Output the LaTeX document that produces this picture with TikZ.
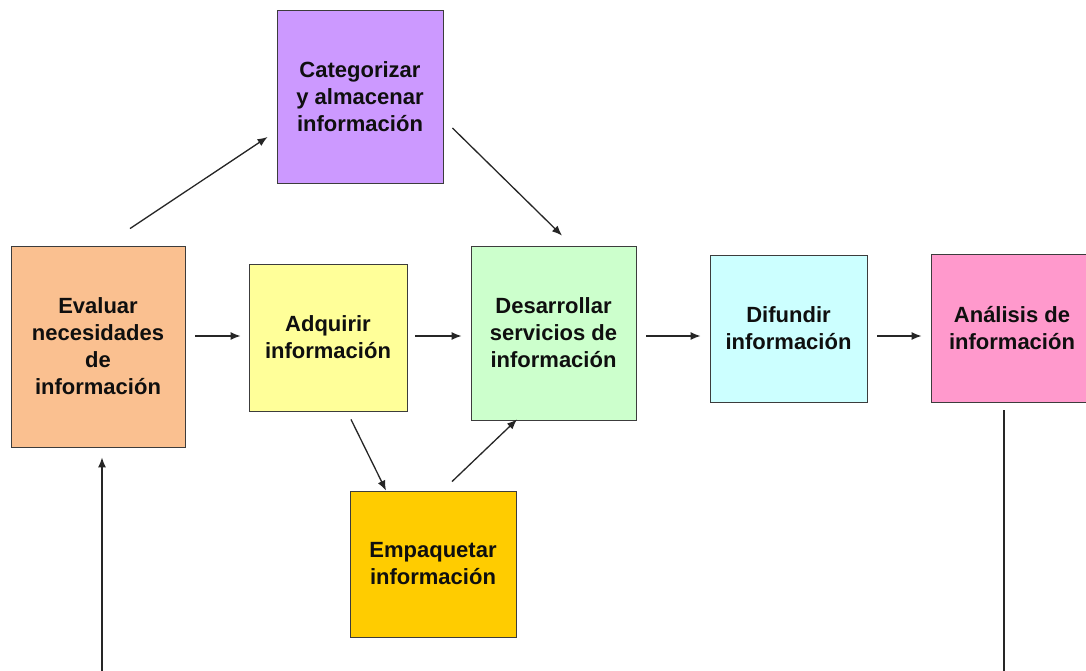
\documentclass[tikz,border=0pt]{standalone}
\usepackage{fontspec}
\setmainfont{Liberation Sans}
\usetikzlibrary{arrows.meta,calc}
\definecolor{cpeach}{RGB}{250,192,144}
\definecolor{cyellow}{RGB}{255,255,153}
\definecolor{cpurple}{RGB}{204,153,255}
\definecolor{cgreen}{RGB}{204,255,204}
\definecolor{ccyan}{RGB}{204,255,255}
\definecolor{cpink}{RGB}{255,153,204}
\definecolor{cgold}{RGB}{255,204,0}
\definecolor{cborder}{RGB}{60,60,60}
\definecolor{ctext}{RGB}{15,15,15}
\tikzset{
  box/.style={draw=cborder, line width=0.9pt, rectangle, align=center, inner sep=2pt,
    font=\fontsize{22}{27}\selectfont\bfseries, text=ctext},
  arr/.style={draw=black!85, line width=1.3pt, -{Latex[length=10pt,width=8pt]}},
  ln/.style={draw=black!85, line width=1.3pt}
}
\begin{document}
\begin{tikzpicture}[x=1pt,y=-1pt]
\clip (0,0) rectangle (1086,671);
\fill[white] (0,0) rectangle (1086,671);
\node[box, fill=cpeach, minimum width=174pt, minimum height=201pt] (eval) at (98,346.5) {Evaluar\\necesidades\\de\\información};
\node[box, fill=cyellow, minimum width=158pt, minimum height=147pt] (adq) at (328,337.5) {Adquirir\\información};
\node[box, fill=cpurple, minimum width=166pt, minimum height=173pt] (cat) at (360,96.5) {Categorizar\\y almacenar\\información};
\node[box, fill=cgreen, minimum width=165pt, minimum height=174pt] (des) at (553.5,333) {Desarrollar\\servicios de\\información};
\node[box, fill=ccyan, minimum width=157pt, minimum height=147pt] (dif) at (788.5,328.5) {Difundir\\información};
\node[box, fill=cpink, minimum width=162pt, minimum height=148pt] (ana) at (1012,328) {Análisis de\\información};
\node[box, fill=cgold, minimum width=166pt, minimum height=146pt] (emp) at (433,564) {Empaquetar\\información};
\coordinate (bl) at (102,675);
\coordinate (br) at (1004,675);
% horizontal arrows
\draw[arr] ($(eval.east |- 0,336)+(10,0)$) -- ($(adq.west |- 0,336)+(-8,0)$);
\draw[arr] ($(adq.east |- 0,336)+(8,0)$) -- ($(des.west |- 0,336)+(-9,0)$);
\draw[arr] ($(des.east |- 0,336)+(10,0)$) -- ($(dif.west |- 0,336)+(-9,0)$);
\draw[arr] ($(dif.east |- 0,336)+(10,0)$) -- ($(ana.west |- 0,336)+(-9,0)$);
% diagonals
\draw[arr] ($(eval.north)+(32,-17)$) -- ($(cat.west)+(-9,40.5)$);
\draw[arr] ($(cat.east)+(9,31.5)$) -- ($(des.north)+(8.5,-10)$);
\draw[arr] ($(adq.south)+(23,8)$) -- ($(emp.north)+(-47,0)$);
\draw[arr] ($(emp.north)+(19,-9)$) -- ($(des.south)+(-36.5,-1)$);
% bottom lines
\draw[arr] (bl) -- ($(eval.south)+(4,10)$);
\draw[ln] ($(ana.south)+(-8,8)$) -- (br);
\end{tikzpicture}
\end{document}
